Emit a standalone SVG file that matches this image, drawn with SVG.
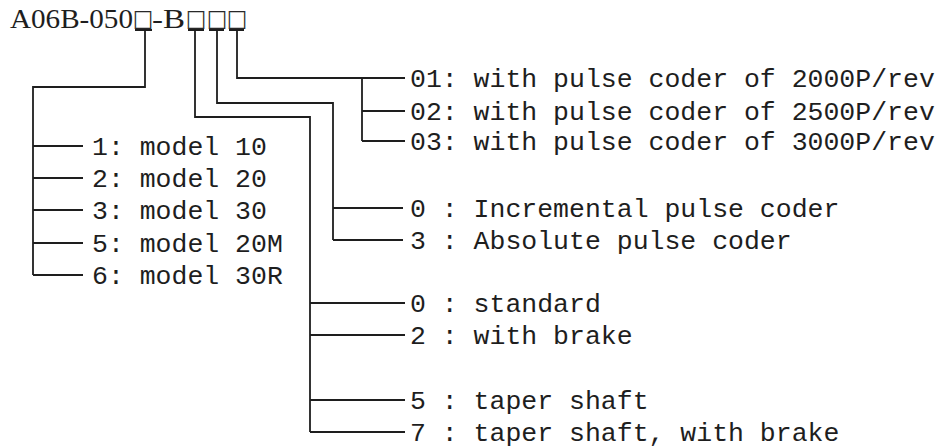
<svg xmlns="http://www.w3.org/2000/svg" width="941" height="448" viewBox="0 0 941 448">
<style>
.t{font-family:"Liberation Mono","DejaVu Sans Mono",monospace;font-size:26.5px;fill:#1e1e1e}
.h{font-family:"Liberation Serif","DejaVu Serif",serif;font-size:27px;fill:#1e1e1e}
.b{font-family:"Noto Sans CJK JP","DejaVu Sans",sans-serif;font-size:20px;fill:#1e1e1e;stroke:#1e1e1e;stroke-width:0.4}
.c{fill:none;stroke:#1e1e1e;stroke-width:1.8}
</style>
<rect width="941" height="448" fill="#fff"/>
<g id="header">
<text class="h" y="28"><tspan x="10" textLength="123" lengthAdjust="spacingAndGlyphs">A06B-050</tspan><tspan class="b" x="133" y="28">□</tspan><tspan x="152" y="28" textLength="33" lengthAdjust="spacingAndGlyphs">-B</tspan><tspan class="b" x="186" y="28">□</tspan><tspan class="b" x="207" y="28">□</tspan><tspan class="b" x="227" y="28">□</tspan></text>
</g>
<g id="connectors" class="c">
<path d="M135 30H152M188 30H204M209 30H224M229 30H244"/>
<path d="M145 30V87H33V275"/>
<path d="M33 146H83M33 178H83M33 210H83M33 243H83M33 275H83"/>
<path d="M237 30V78H405M362 78V141M362 111H405M362 141H405"/>
<path d="M217 30V103H333V240M333 208H403M333 240H403"/>
<path d="M195 30V117H310V432M310 303H405M310 335H405M310 400H405M310 432H405"/>
</g>
<g id="models">
<text class="t" x="92" y="155">1: model 10</text>
<text class="t" x="92" y="187">2: model 20</text>
<text class="t" x="92" y="219">3: model 30</text>
<text class="t" x="92" y="252">5: model 20M</text>
<text class="t" x="92" y="284">6: model 30R</text>
</g>
<g id="pulse-rate">
<text class="t" x="410" y="87">01: with pulse coder of 2000P/rev</text>
<text class="t" x="410" y="120">02: with pulse coder of 2500P/rev</text>
<text class="t" x="410" y="150">03: with pulse coder of 3000P/rev</text>
</g>
<g id="coder-type">
<text class="t" x="410" y="217">0 : Incremental pulse coder</text>
<text class="t" x="410" y="249">3 : Absolute pulse coder</text>
</g>
<g id="shaft">
<text class="t" x="410" y="312">0 : standard</text>
<text class="t" x="410" y="344">2 : with brake</text>
<text class="t" x="410" y="409">5 : taper shaft</text>
<text class="t" x="410" y="441">7 : taper shaft, with brake</text>
</g>
</svg>
